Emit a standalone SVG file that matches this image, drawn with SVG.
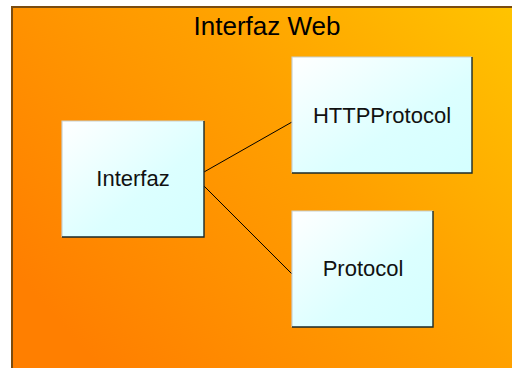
<svg xmlns="http://www.w3.org/2000/svg" width="512" height="368" viewBox="0 0 512 368">
<defs>
<linearGradient id="bg" gradientUnits="userSpaceOnUse" x1="100" y1="368" x2="512" y2="0">
<stop offset="0" stop-color="#ff7f00"/>
<stop offset="0.55" stop-color="#ffa000"/>
<stop offset="1" stop-color="#ffc400"/>
</linearGradient>
<linearGradient id="box" x1="0" y1="0" x2="1" y2="1">
<stop offset="0" stop-color="#ffffff"/>
<stop offset="0.6" stop-color="#dcffff"/>
<stop offset="1" stop-color="#d4ffff"/>
</linearGradient>
<style>
.lbl{font-family:"Liberation Sans",Arial,sans-serif;font-size:22px;fill:#111;text-anchor:middle}
.ttl{font-family:"Liberation Sans",Arial,sans-serif;font-size:26px;fill:#000;text-anchor:middle}
.fill{fill:url(#box)}
.lt{stroke:#c8d0d0;stroke-width:1.2;fill:none}
.dk{stroke:#1a2a2a;stroke-width:1.4;fill:none}
.conn{stroke:#000;stroke-width:1;fill:none}
</style>
</defs>
<rect x="0" y="0" width="512" height="368" fill="#ffffff"/>
<g id="container">
<rect x="12" y="7" width="520" height="380" fill="url(#bg)" stroke="#7a4c10" stroke-width="2"/>
<text class="ttl" x="267" y="34.5">Interfaz Web</text>
</g>
<g id="connectors">
<line class="conn" x1="204" y1="172" x2="292" y2="122"/>
<line class="conn" x1="204" y1="186" x2="292" y2="274"/>
</g>
<g id="node-interfaz">
<rect class="fill" x="62" y="121" width="142" height="116"/>
<path class="lt" d="M62 237 V121 H204"/>
<path class="dk" d="M204 121 V237 H62"/>
<text class="lbl" x="133" y="186">Interfaz</text>
</g>
<g id="node-httpprotocol">
<rect class="fill" x="292" y="57" width="180" height="116"/>
<path class="lt" d="M292 173 V57 H472"/>
<path class="dk" d="M472 57 V173 H292"/>
<text class="lbl" x="382" y="122.5">HTTPProtocol</text>
</g>
<g id="node-protocol">
<rect class="fill" x="292" y="211" width="141" height="116"/>
<path class="lt" d="M292 327 V211 H433"/>
<path class="dk" d="M433 211 V327 H292"/>
<text class="lbl" x="363" y="276">Protocol</text>
</g>
</svg>
